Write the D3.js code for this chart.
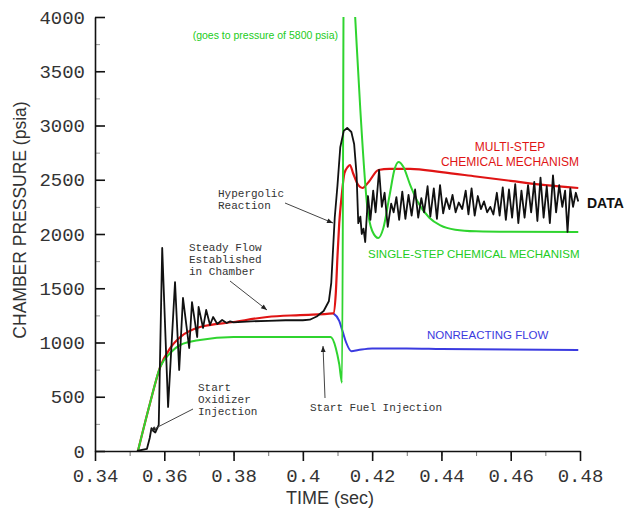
<!DOCTYPE html>
<html>
<head>
<meta charset="utf-8">
<script src="https://cdn.jsdelivr.net/npm/d3@7"></script>
<style>
  html, body { margin: 0; padding: 0; background: #fff; }
  svg { display: block; }
</style>
</head>
<body>
<svg id="chart" width="629" height="509"></svg>
<script>
// ---------- DATA ----------
const xTicks = [0.34, 0.36, 0.38, 0.40, 0.42, 0.44, 0.46, 0.48];
const xTickLabels = ["0.34", "0.36", "0.38", "0.4", "0.42", "0.44", "0.46", "0.48"];
const yTicks = [0, 500, 1000, 1500, 2000, 2500, 3000, 3500, 4000];

// Measured data (black)
const dataTime = [0.3521, 0.3550, 0.3558, 0.3563, 0.3566, 0.3574, 0.3584, 0.3594, 0.3611, 0.3631, 0.3643, 0.3654, 0.3672, 0.3680, 0.3695, 0.3699, 0.3712, 0.3721, 0.3732, 0.3741, 0.3753, 0.3767, 0.3780, 0.3790, 0.3800, 0.3850, 0.3900, 0.3950, 0.4000, 0.4020, 0.4040, 0.4060, 0.4075, 0.4082, 0.4087, 0.4092, 0.4100, 0.4108, 0.4118, 0.4128, 0.4140, 0.4148, 0.4155, 0.4160, 0.4166, 0.4170, 0.4175, 0.4180, 0.4188, 0.4195, 0.4203, 0.4210, 0.4220, 0.4228, 0.4236, 0.4245, 0.4255, 0.4262, 0.4270, 0.4278, 0.4287, 0.4296, 0.4305, 0.4314, 0.4324, 0.4333, 0.4342, 0.4350, 0.4360, 0.4368, 0.4378, 0.4387, 0.4396, 0.4405, 0.4414, 0.4423, 0.4432, 0.4441, 0.4450, 0.4460, 0.4470, 0.4478, 0.4487, 0.4496, 0.4505, 0.4514, 0.4523, 0.4532, 0.4541, 0.4550, 0.4560, 0.4568, 0.4577, 0.4586, 0.4595, 0.4604, 0.4613, 0.4622, 0.4631, 0.4640, 0.4650, 0.4659, 0.4668, 0.4677, 0.4686, 0.4695, 0.4704, 0.4713, 0.4722, 0.4731, 0.4740, 0.4749, 0.4757, 0.4764, 0.4772, 0.4780, 0.4788, 0.4795];
const dataPressure = [0, 20, 120, 210, 190, 170, 240, 1871, 405, 1557, 746, 1410, 949, 1373, 1050, 1327, 1134, 1300, 1161, 1235, 1170, 1207, 1180, 1195, 1185, 1195, 1200, 1205, 1205, 1210, 1240, 1290, 1380, 1550, 1850, 2150, 2450, 2800, 2950, 2977, 2940, 2830, 2550, 2100, 2160, 2000, 2050, 1926, 2350, 2130, 2400, 2200, 2590, 2250, 2380, 2065, 2280, 2200, 2340, 2130, 2390, 2140, 2360, 2170, 2410, 2150, 2330, 2200, 2440, 2160, 2420, 2140, 2450, 2190, 2330, 2230, 2360, 2200, 2290, 2230, 2400, 2180, 2420, 2170, 2350, 2230, 2300, 2200, 2250, 2180, 2380, 2170, 2430, 2130, 2410, 2150, 2460, 2100, 2400, 2150, 2450, 2200, 2480, 2120, 2520, 2150, 2440, 2100, 2540, 2200, 2450, 2250, 2400, 2020, 2420, 2250, 2380, 2300];

// Multi-step chemical mechanism (red)
const multiTime = [0.3524, 0.3559, 0.3588, 0.3617, 0.3646, 0.3703, 0.3800, 0.3897, 0.3992, 0.4088, 0.4095, 0.4100, 0.4105, 0.4112, 0.4120, 0.4130, 0.4136, 0.4145, 0.4160, 0.4172, 0.4190, 0.4218, 0.4250, 0.4310, 0.4400, 0.4500, 0.4600, 0.4700, 0.4795];
const multiPressure = [0, 442, 774, 949, 1050, 1143, 1189, 1235, 1253, 1268, 1450, 1800, 2100, 2350, 2560, 2620, 2636, 2560, 2450, 2424, 2480, 2590, 2600, 2600, 2570, 2530, 2490, 2450, 2424];

// Single-step chemical mechanism (green)
const singleTime = [0.3524, 0.3559, 0.3588, 0.3617, 0.3646, 0.3703, 0.3800, 0.3900, 0.4000, 0.4080, 0.4095, 0.4105, 0.4113, 0.4120, 0.4151, 0.4166, 0.4186, 0.4200, 0.4218, 0.4232, 0.4250, 0.4265, 0.4276, 0.4290, 0.4310, 0.4331, 0.4365, 0.4397, 0.4440, 0.4500, 0.4600, 0.4795];
const singlePressure = [0, 442, 774, 903, 977, 1023, 1050, 1050, 1050, 1050, 950, 800, 630, 5800, 4000, 3140, 2250, 2030, 1963, 2050, 2350, 2600, 2664, 2620, 2450, 2300, 2150, 2080, 2040, 2025, 2020, 2018];

// Non-reacting flow (blue)
const nonreactTime = [0.4088, 0.4105, 0.4115, 0.4125, 0.4140, 0.4160, 0.4200, 0.4300, 0.4400, 0.4795];
const nonreactPressure = [1268, 1200, 1100, 1000, 920, 930, 945, 945, 940, 930];

// ---------- CHART ----------
const svg = d3.select("#chart");
const x = d3.scaleLinear().domain([0.34, 0.48]).range([95, 580]);
const y = d3.scaleLinear().domain([0, 4000]).range([451, 17]);

svg.append("defs").append("clipPath").attr("id", "plotclip")
  .append("rect").attr("x", 95).attr("y", 17).attr("width", 560).attr("height", 434);

const monoFont = "'Liberation Mono', 'DejaVu Sans Mono', monospace";
const sansFont = "'Liberation Sans', Arial, sans-serif";

// Minor ticks
const xMinor = d3.range(0.34, 0.4801, 0.01);
svg.append("g").attr("transform", "translate(0,451)")
  .call(d3.axisBottom(x).tickValues(xMinor).tickSize(5).tickFormat(""))
  .call(g => g.select(".domain").remove())
  .selectAll("line").attr("stroke", "#777").attr("stroke-width", 1);
const yMinor = d3.range(0, 4001, 250);
svg.append("g").attr("transform", "translate(95,0)")
  .call(d3.axisLeft(y).tickValues(yMinor).tickSize(-5).tickFormat(""))
  .call(g => g.select(".domain").remove())
  .selectAll("line").attr("stroke", "#999").attr("stroke-width", 1);

// Major axes
const gx = svg.append("g").attr("transform", "translate(0,451)")
  .call(d3.axisBottom(x).tickValues(xTicks).tickSize(10).tickSizeOuter(0).tickPadding(8)
    .tickFormat((d, i) => xTickLabels[i]));
gx.select(".domain").attr("stroke", "#111").attr("stroke-width", 1.6);
gx.selectAll(".tick line").attr("stroke", "#111").attr("stroke-width", 1.6);
gx.selectAll("text").attr("font-family", monoFont).attr("font-size", 19).attr("fill", "#333");

const gy = svg.append("g").attr("transform", "translate(95,0)")
  .call(d3.axisLeft(y).tickValues(yTicks).tickSize(-10).tickSizeOuter(0).tickPadding(10)
    .tickFormat(d3.format("d")));
gy.select(".domain").attr("stroke", "#111").attr("stroke-width", 1.6);
gy.selectAll(".tick line").attr("stroke", "#111").attr("stroke-width", 1.6);
gy.selectAll("text").attr("font-family", monoFont).attr("font-size", 19).attr("fill", "#333");

// Axis titles
svg.append("text").attr("x", 330).attr("y", 504).attr("text-anchor", "middle")
  .attr("font-family", sansFont).attr("font-size", 18).attr("fill", "#333").text("TIME (sec)");
svg.append("text").attr("transform", "translate(26,220) rotate(-90)").attr("text-anchor", "middle")
  .attr("font-family", sansFont).attr("font-size", 17.5).attr("fill", "#333").text("CHAMBER PRESSURE (psia)");

// Lines
const plot = svg.append("g").attr("clip-path", "url(#plotclip)");
function series(ts, ps) { return ts.map((t, i) => [t, ps[i]]); }
const smooth = d3.line().x(d => x(d[0])).y(d => y(d[1])).curve(d3.curveMonotoneX);
const straight = d3.line().x(d => x(d[0])).y(d => y(d[1]));

plot.append("path").datum(series(nonreactTime, nonreactPressure)).attr("d", smooth)
  .attr("fill", "none").attr("stroke", "#3b3be0").attr("stroke-width", 2);
plot.append("path").datum(series(multiTime, multiPressure)).attr("d", smooth)
  .attr("fill", "none").attr("stroke", "#e01414").attr("stroke-width", 2.2);
plot.append("path").datum(series(singleTime, singlePressure)).attr("d", smooth)
  .attr("fill", "none").attr("stroke", "#2fd42f").attr("stroke-width", 2);
plot.append("path").datum(series(dataTime, dataPressure)).attr("d", straight)
  .attr("fill", "none").attr("stroke", "#111").attr("stroke-width", 1.8).attr("stroke-linejoin", "round");

// Series labels
function label(txt, xx, yy, color, size, weight, anchor) {
  svg.append("text").attr("x", xx).attr("y", yy).attr("text-anchor", anchor || "start")
    .attr("font-family", sansFont).attr("font-size", size).attr("font-weight", weight || "normal")
    .attr("fill", color).text(txt);
}
label("(goes to pressure of 5800 psia)", 338, 39, "#22cc22", 10.5, "normal", "end");
label("MULTI-STEP", 510, 151, "#e01414", 12, "normal", "middle");
label("CHEMICAL MECHANISM", 510, 166, "#e01414", 12, "normal", "middle");
label("DATA", 587, 208, "#111", 14, "bold", "start");
label("SINGLE-STEP CHEMICAL MECHANISM", 368, 258, "#22cc22", 11.5, "normal", "start");
label("NONREACTING FLOW", 427, 339, "#3b3be0", 11.5, "normal", "start");

// Annotations
const defs = svg.select("defs");
defs.append("marker").attr("id", "arrow").attr("viewBox", "0 0 10 10").attr("refX", 10).attr("refY", 5)
  .attr("markerWidth", 8).attr("markerHeight", 6).attr("orient", "auto")
  .append("path").attr("d", "M0,1 L10,5 L0,9 Z").attr("fill", "#222");

function note(lines, xx, yy) {
  lines.forEach((l, i) => {
    svg.append("text").attr("x", xx).attr("y", yy + i * 12).attr("font-family", monoFont)
      .attr("font-size", 11).attr("fill", "#333").text(l);
  });
}
function arrow(x1, y1, x2, y2) {
  svg.append("line").attr("x1", x1).attr("y1", y1).attr("x2", x2).attr("y2", y2)
    .attr("stroke", "#444").attr("stroke-width", 1).attr("marker-end", "url(#arrow)");
}
note(["Hypergolic", "Reaction"], 218, 197);
arrow(285, 203, 333, 223);
note(["Steady Flow", "Established", "in Chamber"], 189, 251);
arrow(230, 281, 267, 310);
note(["Start", "Oxidizer", "Injection"], 198, 391);
arrow(193, 409, 150, 431);
note(["Start Fuel Injection"], 310, 411);
arrow(325, 398, 323, 346);
</script>
</body>
</html>
